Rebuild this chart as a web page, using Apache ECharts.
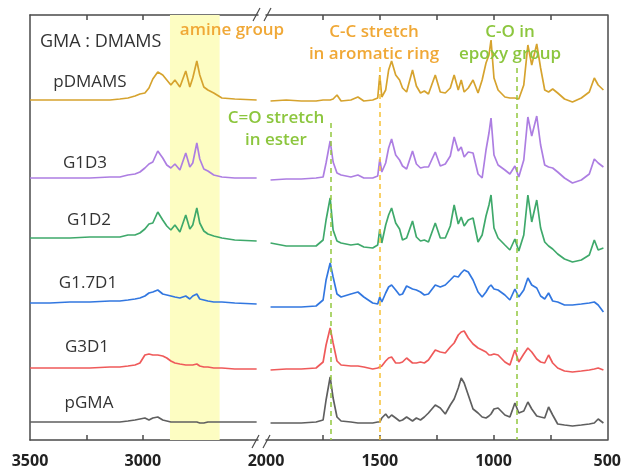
<!DOCTYPE html>
<html><head><meta charset="utf-8">
<script src="https://cdn.jsdelivr.net/npm/echarts@6/dist/echarts.min.js"></script>
<style>html,body{margin:0;padding:0;background:#fff}#c{width:624px;height:472px}</style>
</head><body><div id="c"></div>
<script>
// ---- data ----
const sampleNames = ['pDMAMS', 'G1D3', 'G1D2', 'G1.7D1', 'G3D1', 'pGMA'];
const sampleColors = ['#d6a32e', '#ad7ee2', '#3fa96b', '#3277e0', '#ef5a5a', '#5f5f5f'];
const baselineOffsets = [340, 261, 197, 134, 71, 18];

// left segment (3500 - 2500 cm-1)
const leftWavenumbers = [3500,3412,3323,3235,3146,3102,3066,3035,3013,2991,2973,2956,2934,2912,2894,2876,2858,2836,2810,2792,2779,2761,2748,2730,2712,2686,2650,2593,2496];
const leftPDMAMS = [0,0,0,0,0,1,2,4,6,7,12,21,28,25,20,15,20,13,29,13,22,39,25,13,10,7,2,1,0];
const leftG1D3   = [1,1,1,1,2,2,4,5,7,11,15,17,28,21,14,11,15,9,26,12,16,36,20,10,8,4,2,1,1];
const leftG1D2   = [5,5,5,6,6,6,8,8,10,14,19,20,31,23,17,13,18,11,28,14,18,35,20,12,9,7,5,3,2];
const leftG17D1  = [3,3,4,4,5,5,6,7,8,10,13,14,16,12,11,10,9,8,10,7,10,12,7,6,5,4,4,3,2];
const leftG3D1   = [1,1,1,1,2,2,3,4,6,14,15,14,14,13,11,8,6,5,4,4,4,5,3,2,2,1,1,0,0];
const leftPGMA   = [0,0,0,0,0,0,1,2,3,4,2,4,5,2,1,0,0,0,0,0,0,0,-1,-1,0,0,0,0,0];

// right segment (2000 - 500 cm-1)
const rightWavenumbers = [1980,1911,1845,1780,1749,1736,1718,1705,1688,1670,1627,1596,1570,1531,1509,1500,1491,1474,1461,1448,1430,1413,1400,1382,1356,1339,1321,1304,1286,1256,1234,1212,1190,1173,1155,1142,1129,1111,1090,1068,1050,1033,1020,1011,998,980,950,928,906,889,867,849,832,810,793,775,758,740,718,688,653,614,579,557,540,517];
const rightPDMAMS = [-1,0,-1,-1,0,0,0,1,5,-1, 0,3,-1,0,2,25,3,10,30,39, 25,20,12,8,30,14,7,9,6,25, 8,7,12,25,10,20,8,12,20,7, 20,37,45,60,22,10,3,2,2,1, 15,55,35,56,32,10,8,11,7,1, -2,2,8,22,15,10];
const rightG1D3   = [-1,0,0,1,2,16,38,17,6,4, 2,4,1,1,3,20,7,16,31,40, 24,19,13,10,28,15,11,12,12,27, 13,15,23,42,28,32,22,27,26,5, 1,29,46,61,24,14,9,5,13,2, 19,62,43,63,34,14,12,11,7,1, -4,-1,5,20,16,12];
const rightG1D2   = [0,-3,-3,-3,3,23,45,13,2,0, -2,-1,-4,-5,-2,14,0,18,28,35, 20,14,3,5,22,6,2,3,1,20, 5,5,17,38,19,26,17,23,25,1, 8,27,38,48,15,5,-2,-7,4,-8, 8,48,21,43,15,1,-3,-6,-11,-16, -19,-17,-12,3,-7,-5];
const rightG17D1  = [-1,-1,-1,0,6,26,43,29,12,9, 12,14,9,3,2,9,4,13,19,21, 16,11,12,20,17,16,14,11,12,21, 19,21,26,30,29,33,36,34,26,14, 9,14,19,21,17,16,11,6,17,9, 16,28,21,18,10,7,13,5,4,1, 1,2,3,4,1,-6];
const rightG3D1   = [-1,0,0,1,7,24,41,26,8,4, 3,3,2,0,1,2,3,8,11,12, 6,6,7,11,6,6,7,6,9,19, 17,16,22,26,34,37,38,31,25,21, 19,17,14,14,15,14,7,4,19,7, 15,21,17,10,7,6,14,6,1,-2, -3,-2,-1,0,1,-1];
const rightPGMA   = [-1,-1,-1,0,2,22,45,24,5,1, 0,-1,-1,-1,0,0,4,8,4,7, 4,1,2,5,1,4,2,5,9,17, 14,8,17,23,34,44,39,27,13,9, 5,4,6,8,13,14,7,5,19,9, 11,20,13,6,5,4,15,7,-2,-3, -4,-3,-2,-1,3,-1];

const leftSets = [leftPDMAMS, leftG1D3, leftG1D2, leftG17D1, leftG3D1, leftPGMA];
const rightSets = [rightPDMAMS, rightG1D3, rightG1D2, rightG17D1, rightG3D1, rightPGMA];

// annotations
const amineBand = [2880, 2660];
const markerLines = [
  {wn: 1715, top: 317, color: '#93c83f'},
  {wn: 1500, top: 373, color: '#f6c136'},
  {wn: 900,  top: 372, color: '#93c83f'}
];
const leftTicks = [2750, 3000, 3250];
const leftLabels = [3000, 3500];
const rightTicks = [750, 1000, 1250, 1500, 1750];
const rightLabels = [500, 1000, 1500, 2000];

// ---- chart ----
const axisColor = '#4a4a4a';
const FONT = '"Open Sans", "Liberation Sans", sans-serif';
function xAxisDef(grid, min, max, pos, ticks, labels) {
  return {
    gridIndex: grid, type: 'value', min: min, max: max, inverse: true, position: pos,
    axisLine: {show: true, onZero: false, lineStyle: {color: axisColor, width: 1.5}},
    axisTick: {show: true, inside: true, length: 5, customValues: ticks, lineStyle: {color: axisColor, width: 1.5}},
    axisLabel: pos === 'bottom' ? {show: true, customValues: labels, margin: 13, color: '#222', fontWeight: 'bold', fontSize: 16, fontFamily: FONT, formatter: v => String(v)} : {show: false},
    splitLine: {show: false}
  };
}
function yAxisDef(grid, pos) {
  return {
    gridIndex: grid, type: 'value', min: 0, max: 425, position: pos,
    axisLine: {show: true, onZero: false, lineStyle: {color: axisColor, width: 1.5}},
    axisTick: {show: false}, axisLabel: {show: false}, splitLine: {show: false}
  };
}

const series = [];
sampleNames.forEach((name, k) => {
  series.push({
    name: name, type: 'line', xAxisIndex: 0, yAxisIndex: 0, showSymbol: false, z: 3,
    lineStyle: {color: sampleColors[k], width: 1.7}, itemStyle: {color: sampleColors[k]},
    data: leftWavenumbers.map((w, i) => [w, leftSets[k][i] + baselineOffsets[k]])
  });
  series.push({
    name: name, type: 'line', xAxisIndex: 1, yAxisIndex: 1, showSymbol: false, z: 3,
    lineStyle: {color: sampleColors[k], width: 1.7}, itemStyle: {color: sampleColors[k]},
    data: rightWavenumbers.map((w, i) => [w, rightSets[k][i] + baselineOffsets[k]])
  });
});
// amine band
series.push({
  type: 'line', xAxisIndex: 0, yAxisIndex: 0, data: [], z: 1, silent: true,
  markArea: {silent: true, itemStyle: {color: '#fdfdc2'}, data: [[{xAxis: amineBand[0]}, {xAxis: amineBand[1]}]]}
});
// dashed marker lines
series.push({
  type: 'line', xAxisIndex: 1, yAxisIndex: 1, data: [], z: 4, silent: true,
  markLine: {
    silent: true, symbol: 'none', label: {show: false},
    data: markerLines.map(m => [
      {coord: [m.wn, m.top], lineStyle: {color: m.color, type: [5, 4], width: 1.5}},
      {coord: [m.wn, 0]}
    ])
  }
});

function txt(t, x, y, color, size, weight, align) {
  return {type: 'text', z: 10, style: {text: t, x: x, y: y, fill: color, font: (weight || 'normal') + ' ' + size + 'px ' + FONT, align: align || 'center', verticalAlign: 'middle'}};
}
const orange = '#f0a836', green = '#8cc63e';
const labelPos = [[90, 82], [85, 163], [89, 220], [88, 283], [87, 347], [89, 403]];
const graphics = [
  txt('GMA : DMAMS', 40, 42, '#333', 18, 'normal', 'left'),
  txt('amine group', 232, 30, orange, 17, '600'),
  txt('C-C stretch', 374, 32, orange, 17, '600'),
  txt('in aromatic ring', 374, 54, orange, 17, '600'),
  txt('C-O in', 510, 32, green, 17, '600'),
  txt('epoxy group', 510, 54, green, 17, '600'),
  txt('C=O stretch', 276, 118, green, 17, '600'),
  txt('in ester', 276, 140, green, 17, '600')
];
sampleNames.forEach((n, k) => graphics.push(txt(n, labelPos[k][0], labelPos[k][1], '#333', 17, 'normal')));
// axis break marks
[[253, 21, 260, 8], [264, 21, 271, 8], [252, 448, 259, 435], [263, 448, 270, 435]].forEach(s => {
  graphics.push({type: 'line', z: 10, shape: {x1: s[0], y1: s[1], x2: s[2], y2: s[3]}, style: {stroke: axisColor, lineWidth: 1.2}});
});

const chart = echarts.init(document.getElementById('c'), null, {renderer: 'canvas'});
chart.setOption({
  animation: false,
  backgroundColor: '#fff',
  grid: [
    {left: 30, width: 228, top: 15, bottom: 32},
    {left: 266, right: 16, top: 15, bottom: 32}
  ],
  xAxis: [
    xAxisDef(0, 2490, 3500, 'bottom', leftTicks, leftLabels),
    xAxisDef(1, 500, 2000, 'bottom', rightTicks, rightLabels),
    xAxisDef(0, 2490, 3500, 'top', leftTicks, []),
    xAxisDef(1, 500, 2000, 'top', rightTicks, [])
  ],
  yAxis: [yAxisDef(0, 'left'), yAxisDef(1, 'right')],
  series: series,
  graphic: graphics
});
</script>
</body></html>
